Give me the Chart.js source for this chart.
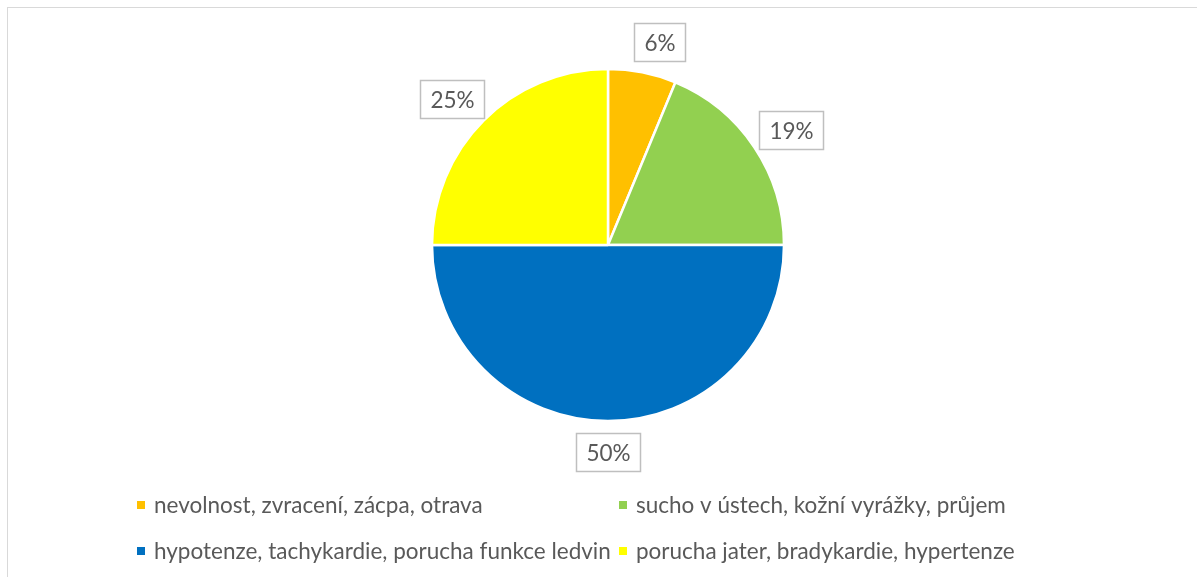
<!DOCTYPE html>
<html lang="cs">
<head>
<meta charset="utf-8">
<script src="https://cdn.jsdelivr.net/npm/chart.js@4.4.1/dist/chart.umd.min.js"></script>
<style>
	html, body { margin: 0; padding: 0; background: #ffffff; overflow: hidden; }
	#ramecek { position: absolute; left: 7px; top: 7px; width: 1400px; height: 800px; border: 1px solid #d9d9d9; }
	#obal { position: absolute; left: 0; top: 0; width: 1197px; height: 577px; }
</style>
</head>
<body>
<div id="ramecek"></div>
<div id="obal"><canvas id="graf-nezadouci"></canvas></div>
<script>
// kategorie nežádoucích účinků a jejich podíly (%)
const kategorie = [
	'nevolnost, zvracení, zácpa, otrava',
	'sucho v ústech, kožní vyrážky, průjem',
	'hypotenze, tachykardie, porucha funkce ledvin',
	'porucha jater, bradykardie, hypertenze'
];
const podily = [6.25, 18.75, 50, 25];
const barvy = ['#FFC000', '#92D050', '#0070C0', '#FFFF00'];

const pismo = 'Lato, "Open Sans", sans-serif';
const barvaTextu = '#595959';

// popisky hodnot v rámečku vně výseče
const popiskyHodnot = {
	id: 'popiskyHodnot',
	afterDatasetsDraw(chart) {
		const ctx = chart.ctx;
		const meta = chart.getDatasetMeta(0);
		const data = chart.data.datasets[0].data;
		const soucet = data.reduce((a, b) => a + b, 0);
		ctx.save();
		ctx.font = '22.5px ' + pismo;
		ctx.textAlign = 'center';
		ctx.textBaseline = 'middle';
		meta.data.forEach((arc, i) => {
			const { x, y, startAngle, endAngle, outerRadius } = arc.getProps(['x', 'y', 'startAngle', 'endAngle', 'outerRadius'], true);
			const stred = (startAngle + endAngle) / 2;
			const dx = Math.cos(stred), dy = Math.sin(stred);
			const text = Math.round(data[i] / soucet * 100) + '%';
			const w = Math.round(ctx.measureText(text).width) + 20;
			const h = 38;
			const vzdal = outerRadius + 12;
			// úzké výseče u vrcholu odsunout víc do strany
			const posun = Math.abs(dx) > 0.05 && Math.abs(dx) < 0.3 ? 10 * Math.sign(dx) : 0;
			const cx = x + dx * vzdal + dx * w / 2 + posun;
			const cy = y + dy * vzdal + dy * h / 2;
			const bx = Math.round(cx - w / 2) + 0.5, by = Math.round(cy - h / 2) + 0.5;
			ctx.fillStyle = '#ffffff';
			ctx.fillRect(bx, by, w, h);
			ctx.strokeStyle = '#bfbfbf';
			ctx.lineWidth = 1.5;
			ctx.strokeRect(bx, by, w, h);
			ctx.fillStyle = barvaTextu;
			ctx.fillText(text, bx + w / 2, by + h / 2 + 1);
		});
		ctx.restore();
	}
};

// legenda ve dvou sloupcích pod grafem
const legendaSloupce = {
	id: 'legendaSloupce',
	afterDraw(chart) {
		const ctx = chart.ctx;
		const sloupce = [137, 619];
		const radky = [505, 551];
		ctx.save();
		ctx.font = '22.5px ' + pismo;
		ctx.textBaseline = 'middle';
		chart.data.labels.forEach((nazev, i) => {
			const sx = sloupce[i % 2];
			const sy = radky[Math.floor(i / 2)];
			ctx.fillStyle = chart.data.datasets[0].backgroundColor[i];
			ctx.fillRect(sx, sy - 4, 8, 8);
			ctx.fillStyle = barvaTextu;
			ctx.fillText(nazev, sx + 17, sy + 1);
		});
		ctx.restore();
	}
};

new Chart(document.getElementById('graf-nezadouci'), {
	type: 'pie',
	data: {
		labels: kategorie,
		datasets: [{
			data: podily,
			backgroundColor: barvy,
			borderColor: '#ffffff',
			borderWidth: 2.5
		}]
	},
	options: {
		responsive: true,
		maintainAspectRatio: false,
		animation: false,
		radius: 176,
		layout: { padding: { left: 408, right: 389, top: 45, bottom: 132 } },
		plugins: {
			legend: { display: false },
			tooltip: { enabled: false }
		}
	},
	plugins: [popiskyHodnot, legendaSloupce]
});
</script>
</body>
</html>
